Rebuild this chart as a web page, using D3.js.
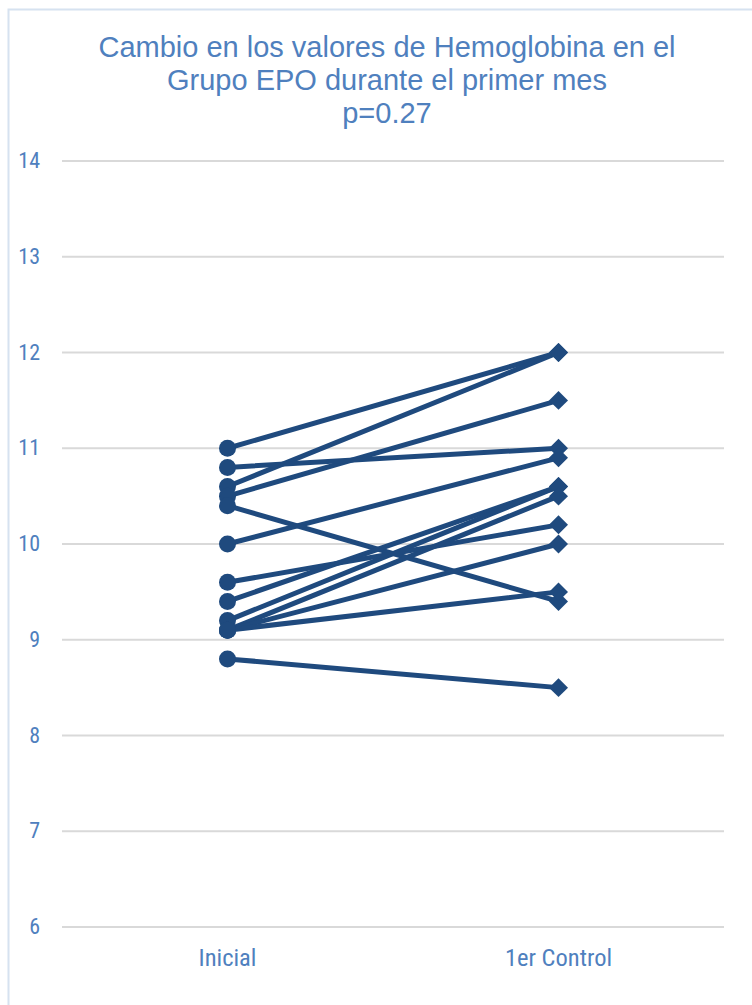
<!DOCTYPE html>
<html>
<head>
<meta charset="utf-8">
<script src="https://cdn.jsdelivr.net/npm/d3@7"></script>
<style>
  html, body { margin: 0; padding: 0; background: #fff; }
  svg { display: block; }
</style>
</head>
<body>
<svg id="chart" width="752" height="1005"></svg>
<script>
// Hemoglobin per patient: initial visit and first control
const categories = ["Inicial", "1er Control"];
const inicial  = [11.0, 10.6, 10.5, 10.8, 10.0, 10.4, 9.4, 9.2, 9.1, 9.6, 9.1, 9.1, 8.8];
const control1 = [12.0, 12.0, 11.5, 11.0, 10.9, 9.4, 10.6, 10.6, 10.5, 10.2, 10.0, 9.5, 8.5];
const yTicks = [6, 7, 8, 9, 10, 11, 12, 13, 14];
const titleLines = ["Cambio en los valores de Hemoglobina en el", "Grupo EPO durante el primer mes", "p=0.27"];

const svg = d3.select("#chart");
const W = 752, H = 1005;
const lineColor = "#1f4a7e";
const textColor = "#4f80be";

// chart area frame
svg.append("rect")
  .attr("x", 8.5).attr("y", 9.5)
  .attr("width", W + 10).attr("height", H + 10)
  .attr("fill", "#fff")
  .attr("stroke", "#d6e2f0").attr("stroke-width", 2);

// title
svg.append("g").selectAll("text")
  .data(titleLines)
  .join("text")
  .attr("x", 387)
  .attr("y", (d, i) => 57 + i * 33)
  .attr("text-anchor", "middle")
  .attr("font-family", "Liberation Sans, Arial, sans-serif")
  .attr("font-size", 29)
  .attr("fill", textColor)
  .text(d => d);

const x = d3.scaleBand().domain(categories).range([62, 724]);
const y = d3.scaleLinear().domain([6, 14]).range([927, 161]);

// horizontal gridlines
svg.append("g").selectAll("line")
  .data(yTicks)
  .join("line")
  .attr("x1", 62).attr("x2", 724)
  .attr("y1", d => y(d)).attr("y2", d => y(d))
  .attr("stroke", "#d9d9d9").attr("stroke-width", 2);

// y axis labels
const yAxis = svg.append("g")
  .attr("transform", "translate(40,0)")
  .call(d3.axisLeft(y).tickValues(yTicks).tickSize(0).tickPadding(0));
yAxis.select(".domain").remove();
yAxis.selectAll("text")
  .attr("font-family", "Liberation Sans Narrow, Roboto Condensed, sans-serif")
  .attr("font-size", 22)
  .attr("fill", textColor)
  .attr("dy", "0.3em");

// x axis labels
const xAxis = svg.append("g")
  .attr("transform", "translate(0,966)")
  .call(d3.axisBottom(x).tickSize(0).tickPadding(0));
xAxis.select(".domain").remove();
xAxis.selectAll("text")
  .attr("font-family", "Liberation Sans Narrow, Roboto Condensed, sans-serif")
  .attr("font-size", 24.5)
  .attr("fill", textColor)
  .attr("dy", "0");

const cx0 = x(categories[0]) + x.bandwidth() / 2;
const cx1 = x(categories[1]) + x.bandwidth() / 2;
const pairs = inicial.map((v, i) => ({ a: v, b: control1[i] }));

// paired lines
svg.append("g").selectAll("line")
  .data(pairs)
  .join("line")
  .attr("x1", cx0).attr("y1", d => y(d.a))
  .attr("x2", cx1).attr("y2", d => y(d.b))
  .attr("stroke", lineColor).attr("stroke-width", 5)
  .attr("stroke-linecap", "round");

// initial markers (circles)
svg.append("g").selectAll("circle")
  .data(pairs)
  .join("circle")
  .attr("cx", cx0).attr("cy", d => y(d.a))
  .attr("r", 8.5)
  .attr("fill", lineColor);

// control markers (diamonds)
const diamond = d3.symbol().type(d3.symbolDiamond2).size(230);
svg.append("g").selectAll("path")
  .data(pairs)
  .join("path")
  .attr("transform", d => `translate(${cx1},${y(d.b)})`)
  .attr("d", diamond)
  .attr("fill", lineColor);
</script>
</body>
</html>
